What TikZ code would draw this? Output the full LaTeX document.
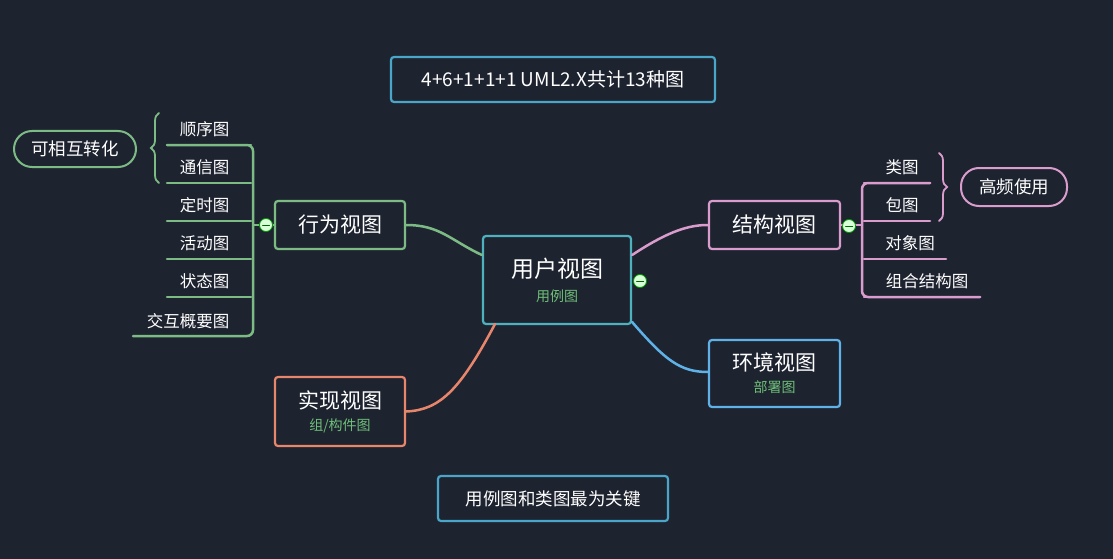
\documentclass[tikz,border=0pt]{standalone}
\usepackage{fontspec}
\setmainfont{Noto Sans CJK SC}
\usetikzlibrary{decorations.pathreplacing}
\definecolor{bg}{RGB}{30,35,48}
\definecolor{teal}{RGB}{78,178,190}
\definecolor{greenish}{RGB}{125,187,133}
\definecolor{pinkish}{RGB}{217,156,204}
\definecolor{blueish}{RGB}{95,178,232}
\definecolor{orangish}{RGB}{232,134,108}
\definecolor{topblue}{RGB}{74,166,200}
\definecolor{sublabel}{RGB}{110,190,120}
\tikzset{
 topic/.style={draw, line width=2.2pt, rounded corners=3pt, text=white, align=center, inner sep=0pt},
 leaf/.style={text=white, font=\fontsize{16.5}{18}\selectfont, inner sep=0pt},
 pill/.style={draw, line width=2pt, rounded corners=18pt, text=white, font=\fontsize{17.5}{19}\selectfont, minimum height=36pt, inner sep=0pt},
 fold/.style={circle, draw=green!60!black, fill=white!85!green, line width=0.8pt, minimum size=13pt, inner sep=0pt},
}
\newcommand{\sub}[1]{\\[-2pt]{\fontsize{14}{15}\selectfont\color{sublabel}#1}}
\begin{document}
\begin{tikzpicture}[x=1pt, y=-1pt, line cap=round]
\fill[bg] (0,0) rectangle (1113,559);
\useasboundingbox (0,0) rectangle (1113,559);

% title notes
\node[topic, draw=topblue, minimum width=324pt, minimum height=45pt, font=\fontsize{19}{21}\selectfont] (total) at (553,79.5) {4+6+1+1+1 UML2.X共计13种图};
\node[topic, draw=topblue, minimum width=230pt, minimum height=45pt, font=\fontsize{17.5}{19}\selectfont] (key) at (553,498.5) {用例图和类图最为关键};

% central topic and main branches
\node[topic, draw=teal, minimum width=148pt, minimum height=88pt, font=\fontsize{23}{26}\selectfont] (usecase) at (557,280) {用户视图\sub{用例图}};
\node[topic, draw=greenish, minimum width=130pt, minimum height=48pt, font=\fontsize{21}{24}\selectfont] (behave) at (340,225) {行为视图};
\node[topic, draw=pinkish, minimum width=131pt, minimum height=48pt, font=\fontsize{21}{24}\selectfont] (struct) at (774.5,225) {结构视图};
\node[topic, draw=blueish, minimum width=131pt, minimum height=67pt, font=\fontsize{21}{24}\selectfont] (deploy) at (774.5,373.5) {环境视图\sub{部署图}};
\node[topic, draw=orangish, minimum width=130pt, minimum height=69pt, font=\fontsize{21}{24}\selectfont] (impl) at (340,411.5) {实现视图\sub{组/构件图}};

\draw[greenish, line width=2.5pt] (usecase.west |- 0,255) .. controls (450,240) and (440,225) .. (behave.east);
\draw[pinkish, line width=2.5pt] (usecase.east |- 0,255) .. controls (670,230) and (690,225) .. (struct.west);
\draw[blueish, line width=2.5pt] (usecase.east |- 0,322) .. controls (665,360) and (680,372) .. (deploy.west |- 0,372);
\draw[orangish, line width=2.5pt] (495,324) .. controls (460,390) and (440,410) .. (impl.east);

% behaviour leaves
\draw[greenish, line width=2.5pt, rounded corners=6pt] (167,145) -- (253,145) -- (253,336) -- (133,336);
\foreach \name/\txt/\y in {seq/顺序图/145, comm/通信图/183, time/定时图/221, act/活动图/259, state/状态图/297}
 {
 \node[leaf] (\name) at (204.5,\y-16) {\txt};
 \draw[greenish, line width=2.5pt] (167,\y) -- (251,\y);
 }
\node[leaf] (overview) at (188,321) {交互概要图};
\draw[greenish, line width=2pt] (253,225) -- (behave.west);
\node[fold] (bfold) at (266,225) {};
\draw[line width=1pt, green!40!black] (bfold.center) ++(-3.5,0) -- ++(7,0);
\draw[greenish, line width=1.8pt, decorate, decoration={brace, amplitude=8pt}] (159,183) -- (159,113);
\node[pill, draw=greenish, minimum width=122pt] (convert) at (75,149) {可相互转化};

% structure leaves
\draw[pinkish, line width=2.5pt, rounded corners=6pt] (930,183) -- (862,183) -- (862,297) -- (980,297);
\foreach \name/\txt/\x/\y/\len in {cls/类图/902/183/68, pkg/包图/902/221/68, obj/对象图/910/259/84, comp/组合结构图/927/297/118}
 {
 \node[leaf] (\name) at (\x,\y-16) {\txt};
 \draw[pinkish, line width=2.5pt] (864,\y) -- (862+\len,\y);
 }
\draw[pinkish, line width=2pt] (struct.east) -- (862,225);
\node[fold] (sfold) at (849,226) {};
\draw[line width=1pt, green!40!black] (sfold.center) ++(-3.5,0) -- ++(7,0);
\draw[pinkish, line width=1.8pt, decorate, decoration={brace, amplitude=8pt}] (939,153) -- (939,221);
\node[pill, draw=pinkish, minimum width=106pt, minimum height=38pt] (freq) at (1014,187) {高频使用};

% central fold
\node[fold] (cfold) at (640,281) {};
\draw[line width=1pt, green!40!black] (cfold.center) ++(-3.5,0) -- ++(7,0);
\end{tikzpicture}
\end{document}
